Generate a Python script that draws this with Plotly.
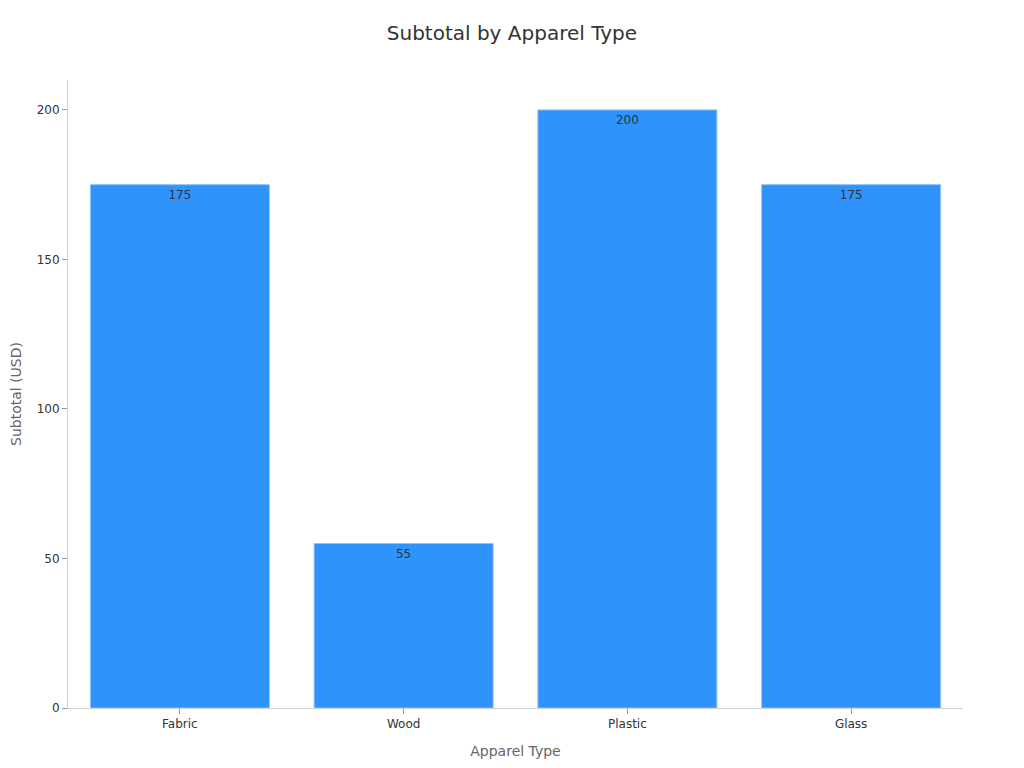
import plotly.graph_objects as go

# apparel types and their subtotals
categories = ['Fabric', 'Wood', 'Plastic', 'Glass']
subtotals = [175, 55, 200, 175]

fig = go.Figure()
fig.add_trace(go.Bar(
    x=categories,
    y=subtotals,
    text=subtotals,
    textposition='inside',
    insidetextanchor='end',
    textfont=dict(color='#333333', size=12),
    marker=dict(color='#2E93FA', line=dict(color='#8CC4FC', width=1)),
))

# the page body keeps an 8px margin, so the figure is sized to fit the window
fig.update_layout(
    title=dict(text='Subtotal by Apparel Type', x=0.496, xanchor='center',
               y=0.967, yanchor='middle', font=dict(size=20, color='#333333')),
    font=dict(family='DejaVu Sans', color='#333333'),
    width=1016, height=760,
    margin=dict(l=60, r=61, t=72, b=60),
    plot_bgcolor='white', paper_bgcolor='white',
    bargap=0.2,
    showlegend=False,
    xaxis=dict(
        title=dict(text='Apparel Type', font=dict(size=14, color='#666666')),
        showline=True, linecolor='#d0d0d0', ticks='outside', tickcolor='#999999',
        ticklen=5, tickfont=dict(size=12), automargin=False,
    ),
    yaxis=dict(
        title=dict(text='Subtotal (USD)', font=dict(size=14, color='#666666')),
        range=[0, 210], dtick=50, showgrid=False, zeroline=False,
        showline=True, linecolor='#d0d0d0', ticks='outside', tickcolor='#999999',
        ticklen=5, tickfont=dict(size=12), automargin=False,
    ),
)

fig.write_html("out.html")
